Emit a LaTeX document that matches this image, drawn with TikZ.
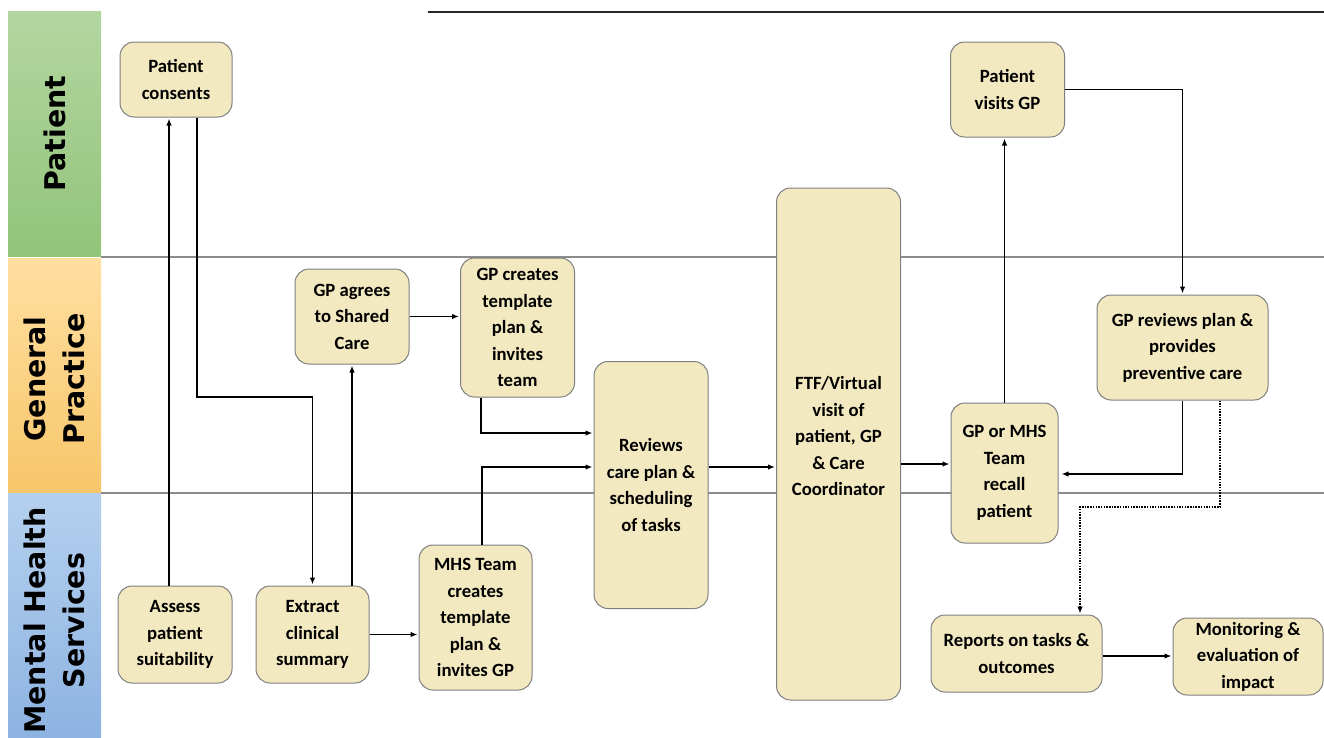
\documentclass[tikz,border=0pt]{standalone}
\usepackage{fontspec}
\setmainfont{Carlito}
\newfontfamily\lanefont{DejaVu Sans}
\usetikzlibrary{arrows.meta,calc}
\definecolor{boxfill}{HTML}{F3E9C1}
\definecolor{boxline}{HTML}{7F7F7F}
\definecolor{gtop}{HTML}{B3D6A0}
\definecolor{gbot}{HTML}{92C47A}
\definecolor{otop}{HTML}{FFDFA0}
\definecolor{obot}{HTML}{F7C66A}
\definecolor{btop}{HTML}{B5D0EE}
\definecolor{bbot}{HTML}{8DB3E2}
\definecolor{divline}{HTML}{8C8C8C}
\tikzset{
  box/.style={draw=boxline, fill=boxfill, rounded corners=14pt, line width=1pt,
    align=center, inner sep=0pt, font=\bfseries\fontsize{18.7}{26.5}\selectfont},
  lanebg/.style={draw=none, minimum width=93pt, inner sep=0pt},
  lanetext/.style={rotate=90, align=center, inner sep=0pt,
    font=\lanefont\bfseries\fontsize{28.5}{39}\selectfont},
  divider/.style={draw=divline, line width=1.2pt},
  arr/.style={-{Latex[length=7pt,width=5.5pt]}, line width=1.9pt, shorten >=1pt},
}
\begin{document}
\begin{tikzpicture}[x=1pt,y=-1pt]
\useasboundingbox (0,0) rectangle (1324,737);
\begin{scope}
\clip (0,0) rectangle (1324,737);
% lane headers
\node[lanebg, top color=gtop, bottom color=gbot, minimum height=245pt] (lp) at (54.5,133.5) {};
\node[lanebg, top color=otop, bottom color=obot, minimum height=234pt] (lg) at (54.5,375) {};
\node[lanebg, top color=btop, bottom color=bbot, minimum height=245pt] (lm) at (54.5,615.5) {};
\node[lanetext] (tp) at (lp.center) {Patient};
\node[lanetext] (tg) at ($(lg.center)+(0,4)$) {General\\Practice};
\node[lanetext] (tm) at ($(lm.center)+(0,5)$) {Mental Health\\Services};
\end{scope}
% lane lines
\draw[draw=black!85, line width=1.3pt] (428,12) -- (1324,12);
\draw[divider] (101,257) -- (1324,257);
\draw[divider] (101,493) -- (1324,493);
% boxes
\node[box, minimum width=112pt, minimum height=75pt]  (pc)  at (176,79.5)    {Patient\\consents};
\node[box, minimum width=114pt, minimum height=95pt]  (ga)  at (352,316.5)   {GP agrees\\to Shared\\Care};
\node[box, minimum width=114pt, minimum height=139pt] (gc)  at (517.5,327.5) {GP creates\\template\\plan \&\\invites\\team};
\node[box, minimum width=114pt, minimum height=247pt] (rv)  at (651,485)     {Reviews\\care plan \&\\scheduling\\of tasks};
\node[box, minimum width=124pt, minimum height=512pt] (ftf) at (838.5,444)   {};
\node[box, draw=none, fill=none] (ftft) at (838.5,436) {FTF/Virtual\\visit of\\patient, GP\\\& Care\\Coordinator};
\node[box, minimum width=114pt, minimum height=95pt]  (pv)  at (1007.5,89.5) {Patient\\visits GP};
\node[box, minimum width=171pt, minimum height=105pt] (gr)  at (1182.5,347.5){GP reviews plan \&\\provides\\preventive care};
\node[box, minimum width=107pt, minimum height=140pt] (rc)  at (1004.5,473)  {GP or MHS\\Team\\recall\\patient};
\node[box, minimum width=171pt, minimum height=77pt]  (rp)  at (1016.5,653.5){Reports on tasks \&\\outcomes};
\node[box, minimum width=150pt, minimum height=77pt]  (mo)  at (1248,656.5)  {Monitoring \&\\evaluation of\\impact};
\node[box, minimum width=114pt, minimum height=97pt]  (as)  at (175,634.5)   {Assess\\patient\\suitability};
\node[box, minimum width=113pt, minimum height=97pt]  (ex)  at (312.5,634.5) {Extract\\clinical\\summary};
\node[box, minimum width=113pt, minimum height=145pt] (mt)  at (475.5,617.5) {MHS Team\\creates\\template\\plan \&\\invites GP};
% helper coordinates
\coordinate (k1) at (169,0);
\coordinate (k2) at (197,0);
\coordinate (k3) at (312.5,397);
\coordinate (k4) at (481,433);
\coordinate (k5) at (482,467);
\coordinate (k6) at (0,464);
\coordinate (k7) at (0,474);
\coordinate (k8) at (1220,507);
\coordinate (k9) at (1080,507);
\coordinate (k10) at (0,656);
% connectors
\draw[arr] (as.north -| k1) -- (pc.south -| k1);
\draw[arr] (pc.south -| k2) |- (k3) -- (ex.north);
\draw[arr] (ex.north -| ga.south) -- (ga.south);
\draw[arr] (ex.east) -- (mt.west |- ex.east);
\draw[arr] (ga.east) -- (gc.west |- ga.east);
\draw[arr] (gc.south -| k4) |- (rv.west |- k4);
\draw[arr] (mt.north -| k5) |- (rv.west |- k5);
\draw[arr] (rv.east |- k5) -- (ftf.west |- k5);
\draw[arr] (ftf.east |- k6) -- (rc.west |- k6);
\draw[arr] (rc.north) -- (rc.north |- pv.south);
\draw[arr] (pv.east) -| (gr.north);
\draw[arr, shorten >=3pt] (gr.south) |- (rc.east |- k7);
\draw[arr, line width=1.5pt, dash pattern=on 1.5pt off 1.2pt] (gr.south -| k8) -- (k8) -- (k9) -- (rp.north -| k9);
\draw[arr] (rp.east |- k10) -- (mo.west |- k10);
\end{tikzpicture}
\end{document}
